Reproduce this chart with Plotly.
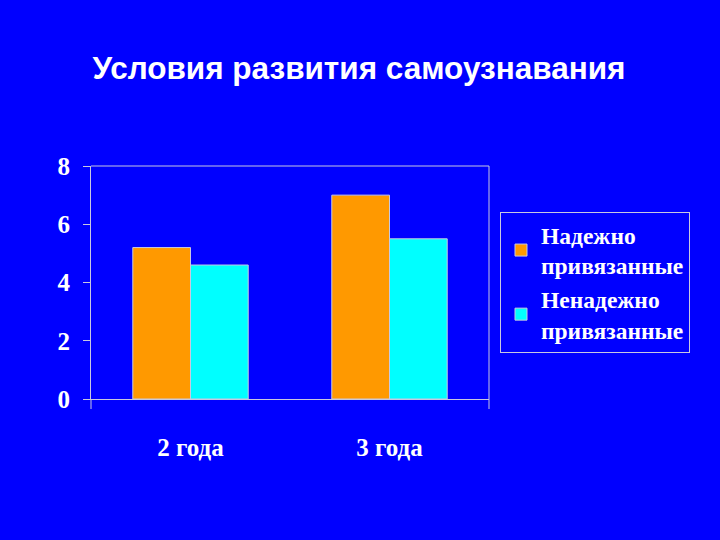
import plotly.graph_objects as go

categories = ["2 года", "3 года"]
series_names = ["Надежно<br>привязанные", "Ненадежно<br>привязанные"]
secure = [5.2, 7.0]
insecure = [4.6, 5.5]
y_ticks = [0, 2, 4, 6, 8]

BG = "#0000FF"
LINE = "#C8C8E0"
SERIF = "Liberation Serif, Times New Roman"

fig = go.Figure()
fig.add_trace(go.Bar(x=categories, y=secure, name=series_names[0],
                     marker=dict(color="#FF9900", line=dict(color=LINE, width=1))))
fig.add_trace(go.Bar(x=categories, y=insecure, name=series_names[1],
                     marker=dict(color="#00FFFF", line=dict(color=LINE, width=1))))

fig.update_layout(
    width=720, height=540,
    paper_bgcolor=BG, plot_bgcolor=BG,
    margin=dict(l=91, r=231, t=166, b=141),
    barmode="group", bargap=0.42, bargroupgap=0,
    title=dict(text="Условия развития самоузнавания",
               font=dict(family="Liberation Sans, Arial", size=31.5, color="white",
                         weight="bold"),
               x=359 / 720, xanchor="center", y=1 - 68 / 540, yanchor="middle",
               xref="container", yref="container"),
    showlegend=True,
    legend=dict(x=500 / 720, y=1 - 212 / 540, xanchor="left", yanchor="top",
                xref="container", yref="container",
                bgcolor=BG, bordercolor=LINE, borderwidth=1,
                font=dict(family=SERIF, size=23.5, color="white", weight="bold"),
                tracegroupgap=4),
    xaxis=dict(showline=True, linecolor=LINE, linewidth=1, showgrid=False,
               ticks="", tickfont=dict(family=SERIF, size=25, color="white",
                                       weight="bold"),
               ticklabelstandoff=26),
    yaxis=dict(range=[0, 8], tickvals=y_ticks, showline=True, linecolor=LINE,
               linewidth=1, showgrid=False, zeroline=False, ticks="outside",
               ticklen=7, tickcolor=LINE,
               tickfont=dict(family=SERIF, size=25, color="white", weight="bold"),
               ticklabelstandoff=8),
)

# plot-area frame (top and right) and outer tick extensions
fig.add_shape(type="line", xref="x domain", yref="y domain", x0=0, x1=1, y0=1, y1=1,
              line=dict(color=LINE, width=1))
fig.add_shape(type="line", xref="x domain", yref="y domain", x0=1, x1=1, y0=-0.043, y1=1,
              line=dict(color=LINE, width=1))
fig.add_shape(type="line", xref="x domain", yref="y domain", x0=0, x1=0, y0=-0.043, y1=0,
              line=dict(color=LINE, width=1))

fig.write_html("out.html")
